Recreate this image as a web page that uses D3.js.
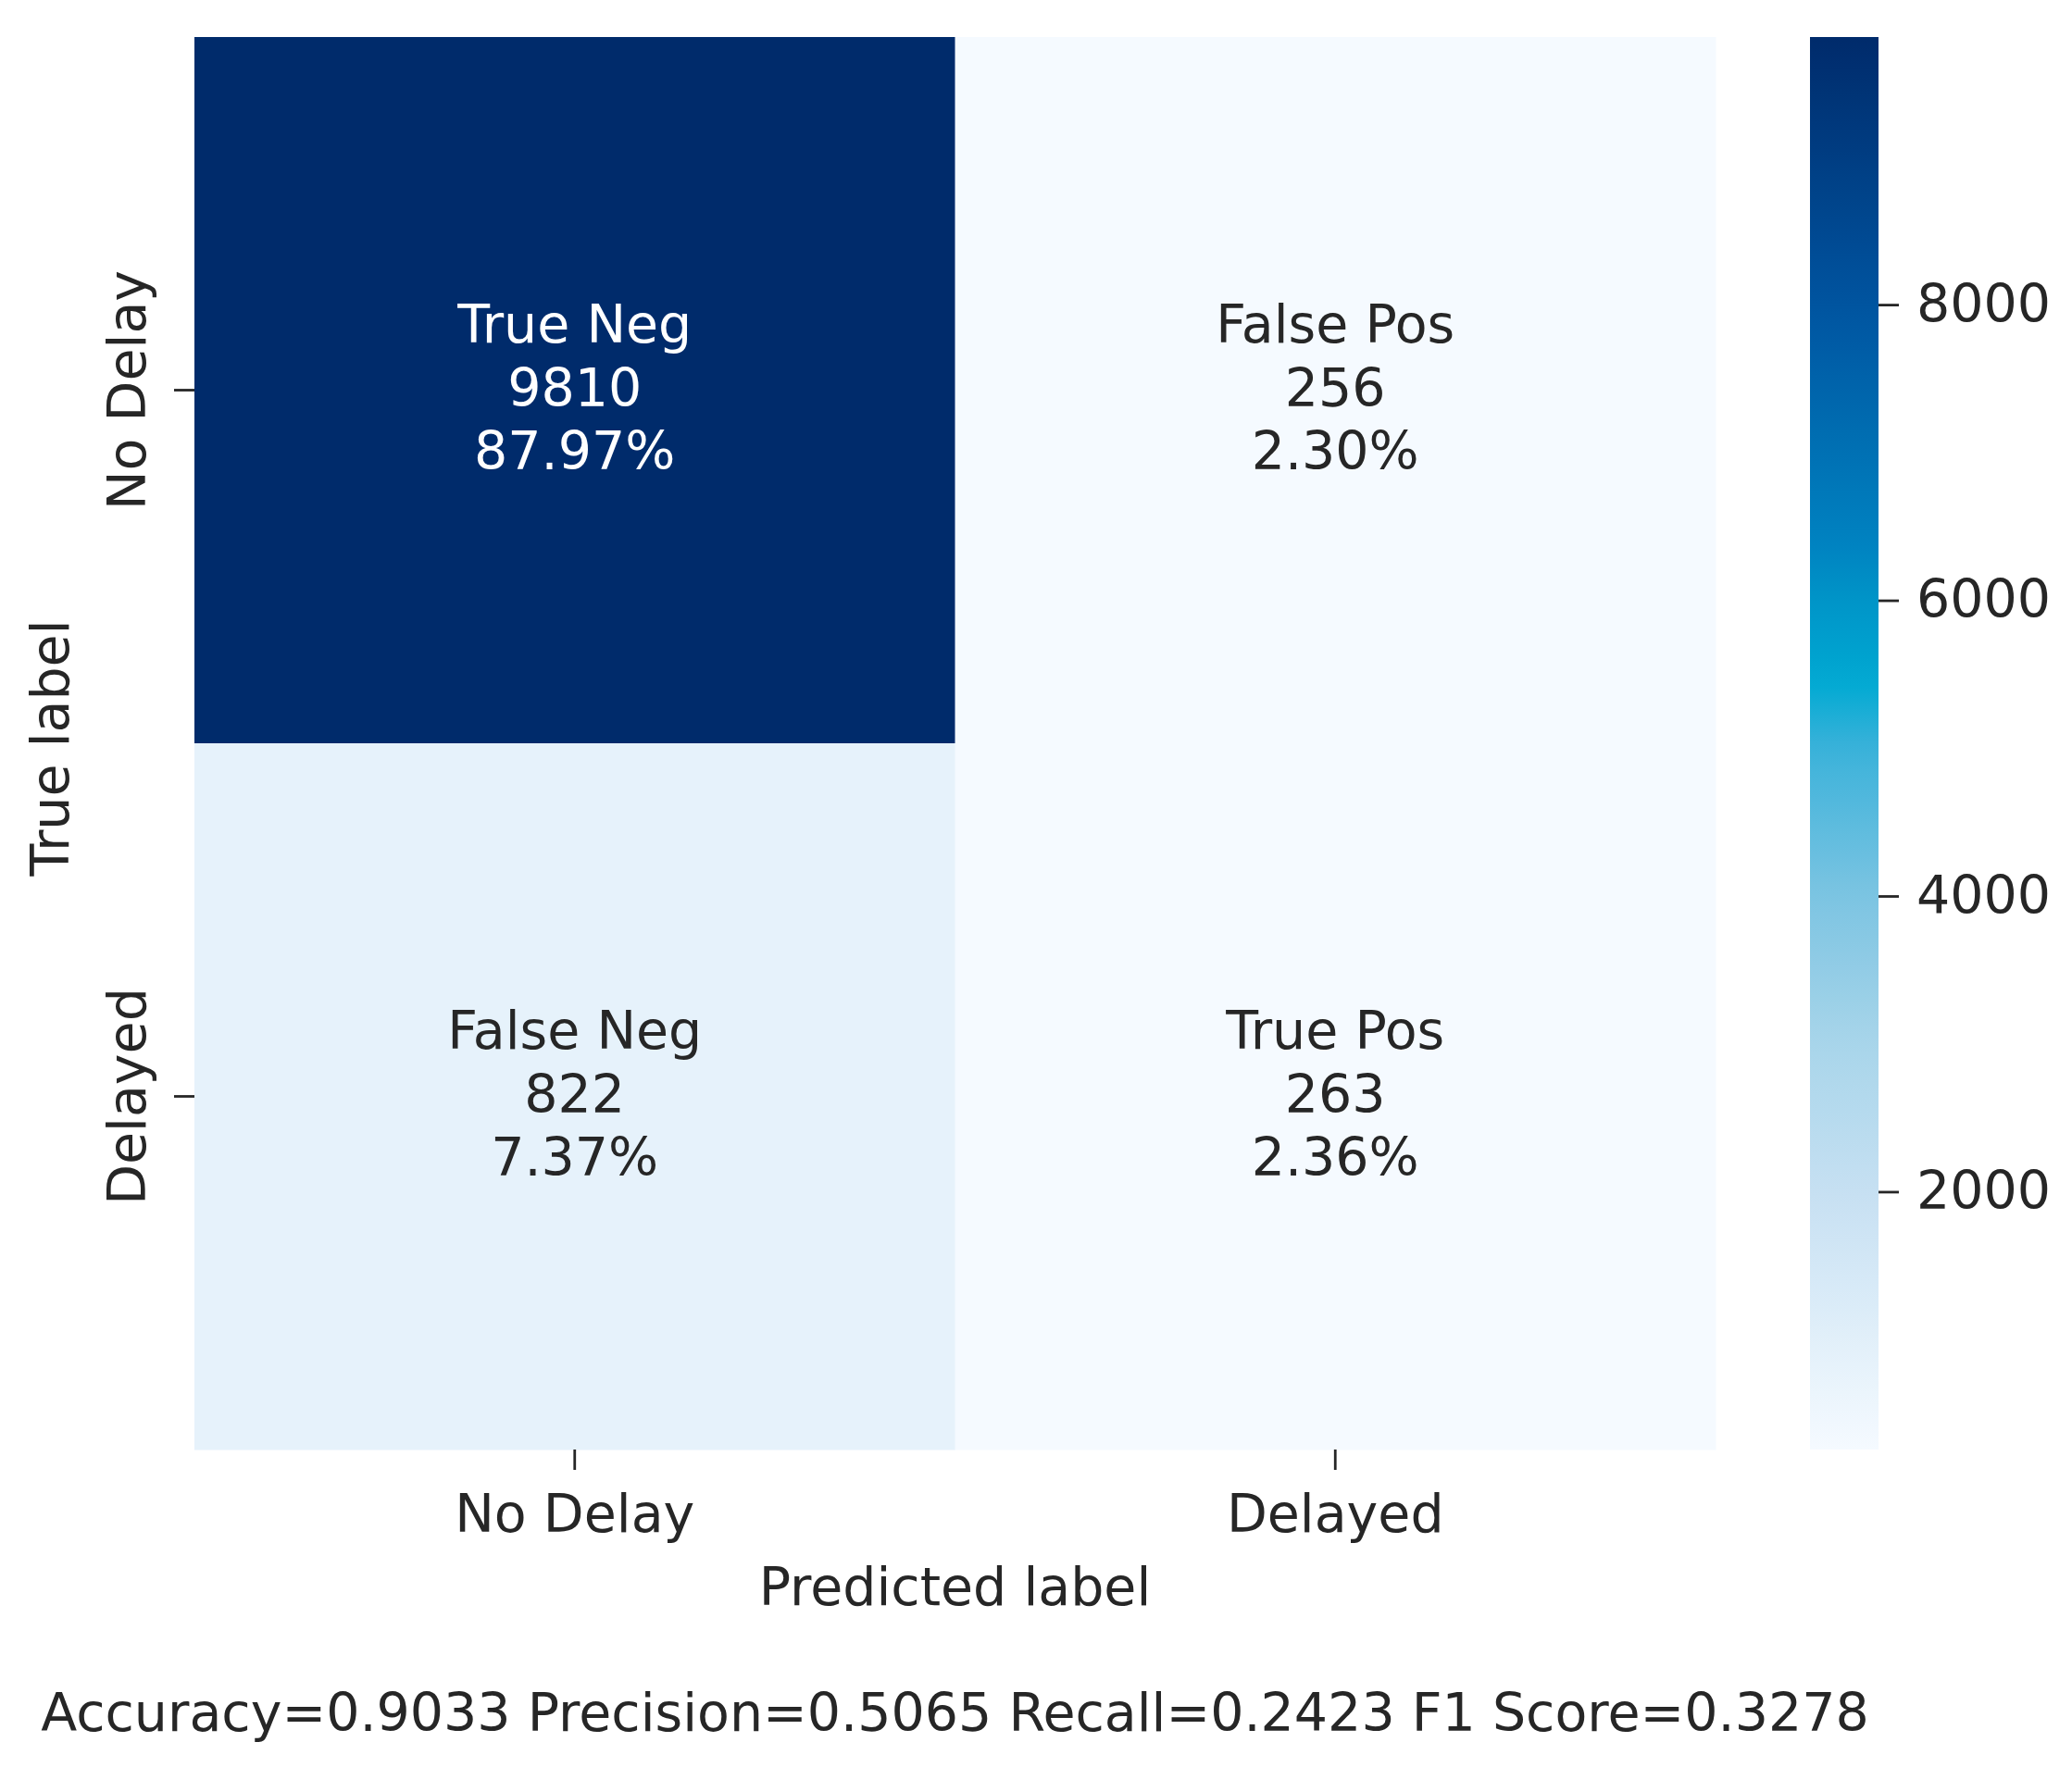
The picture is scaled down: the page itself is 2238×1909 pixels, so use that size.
<!DOCTYPE html>
<html>
<head>
<meta charset="utf-8">
<script src="https://cdn.jsdelivr.net/npm/d3@7"></script>
<style>
  body { margin: 0; background: #fff; }
  svg text { font-family: "DejaVu Sans", sans-serif; }
</style>
</head>
<body>
<svg id="chart" width="2238" height="1909"></svg>
<script>
// confusion matrix data
var classes = ["No Delay", "Delayed"];
var cellNames = [["True Neg", "False Pos"], ["False Neg", "True Pos"]];
var counts = [[9810, 256], [822, 263]];
var cbTicks = [2000, 4000, 6000, 8000];
var metricNames = ["Accuracy", "Precision", "Recall", "F1 Score"];
var metricValues = ["0.9033", "0.5065", "0.2423", "0.3278"];

// colour ramp (Blues, as it looks in the picture)
var rampStops = [0, 0.059, 0.1825, 0.287, 0.392, 0.497, 0.543, 0.601, 0.643, 0.81, 1];
var rampColors = ["#f5faff", "#e6f2fb", "#c6e0f2", "#a8d5ea", "#7cc4e2", "#3ab2da",
                  "#00a9d2", "#0095c8", "#0082c0", "#0054a0", "#002b6b"];

var svg = d3.select("#chart");
var fontSize = 57;

// plot box (window.top is reserved, so no plain "top")
var boxLeft = 210, boxRight = 1853, boxTop = 40, boxBottom = 1566;

var flat = [];
counts.forEach(function(row, i){
    row.forEach(function(v, j){
        flat.push({row: i, col: j, value: v, name: cellNames[i][j]});
    });
});
var total = d3.sum(flat, function(d){ return d.value; });
var vmin = d3.min(flat, function(d){ return d.value; });
var vmax = d3.max(flat, function(d){ return d.value; });

var norm = d3.scaleLinear().domain([vmin, vmax]).range([0, 1]);
var ramp = d3.scaleLinear().domain(rampStops).range(rampColors).interpolate(d3.interpolateRgb);
function color(v){ return ramp(norm(v)); }

var x = d3.scaleBand().domain(d3.range(classes.length)).range([boxLeft, boxRight]);
var y = d3.scaleBand().domain(d3.range(classes.length)).range([boxTop, boxBottom]);

// cells
svg.selectAll("rect.cell")
    .data(flat)
    .enter().append("rect")
    .attr("class", "cell")
    .attr("x", function(d){ return x(d.col); })
    .attr("y", function(d){ return y(d.row); })
    .attr("width", x.bandwidth() + 0.5)
    .attr("height", y.bandwidth() + 0.5)
    .attr("fill", function(d){ return color(d.value); });

// annotations
var pct = d3.format(".2%");
var lineH = 68.5;
flat.forEach(function(d){
    var cx = x(d.col) + x.bandwidth() / 2;
    var cy = y(d.row) + y.bandwidth() / 2;
    var lines = [d.name, String(d.value), pct(d.value / total)];
    var fill = norm(d.value) > 0.6 ? "#ffffff" : "#262626";
    lines.forEach(function(t, k){
        svg.append("text")
            .attr("x", cx)
            .attr("y", cy + 17 + (k - 1) * lineH)
            .attr("text-anchor", "middle")
            .attr("font-size", fontSize)
            .attr("fill", fill)
            .text(t);
    });
});

// x axis
var xAxis = svg.append("g")
    .attr("transform", "translate(0," + boxBottom + ")")
    .call(d3.axisBottom(x).tickSize(22).tickPadding(27).tickFormat(function(i){ return classes[i]; }));
xAxis.select(".domain").remove();
xAxis.selectAll("line").attr("stroke", "#262626").attr("stroke-width", 2.8);
xAxis.selectAll("text").attr("font-size", fontSize).attr("fill", "#262626")
    .attr("font-family", "DejaVu Sans");

// y axis
var yAxis = svg.append("g")
    .attr("transform", "translate(" + boxLeft + ",0)")
    .call(d3.axisLeft(y).tickSize(22).tickFormat(function(i){ return classes[i]; }));
yAxis.select(".domain").remove();
yAxis.selectAll("line").attr("stroke", "#262626").attr("stroke-width", 2.8);
yAxis.selectAll("text")
    .attr("x", null).attr("dy", null)
    .attr("text-anchor", "middle")
    .attr("transform", "translate(-53,0) rotate(-90)")
    .attr("font-size", fontSize).attr("fill", "#262626")
    .attr("font-family", "DejaVu Sans");

// axis titles
svg.append("text")
    .attr("x", (boxLeft + boxRight) / 2)
    .attr("y", 1734)
    .attr("text-anchor", "middle")
    .attr("font-size", fontSize)
    .attr("fill", "#262626")
    .text("Predicted label");

svg.append("text")
    .attr("transform", "translate(74," + 808 + ") rotate(-90)")
    .attr("text-anchor", "middle")
    .attr("font-size", fontSize)
    .attr("fill", "#262626")
    .text("True label");

// colorbar
var cbLeft = 1955, cbWidth = 74;
var defs = svg.append("defs");
var grad = defs.append("linearGradient")
    .attr("id", "cbGrad")
    .attr("x1", 0).attr("y1", 1).attr("x2", 0).attr("y2", 0);
d3.range(0, 1.0001, 0.02).forEach(function(t){
    grad.append("stop").attr("offset", t).attr("stop-color", ramp(t));
});
svg.append("rect")
    .attr("x", cbLeft).attr("y", boxTop)
    .attr("width", cbWidth).attr("height", boxBottom - boxTop)
    .attr("fill", "url(#cbGrad)");

var cbScale = d3.scaleLinear().domain([vmin, vmax]).range([boxBottom, boxTop]);
var cbAxis = svg.append("g")
    .attr("transform", "translate(" + (cbLeft + cbWidth) + ",0)")
    .call(d3.axisRight(cbScale).tickValues(cbTicks).tickSize(22).tickPadding(19).tickFormat(d3.format("d")));
cbAxis.select(".domain").remove();
cbAxis.selectAll("line").attr("stroke", "#262626").attr("stroke-width", 2.8);
cbAxis.selectAll("text").attr("font-size", fontSize).attr("fill", "#262626")
    .attr("font-family", "DejaVu Sans");

// metrics line
svg.append("text")
    .attr("x", (boxLeft + boxRight) / 2)
    .attr("y", 1870)
    .attr("text-anchor", "middle")
    .attr("font-size", fontSize)
    .attr("fill", "#262626")
    .text(metricNames.map(function(n, i){ return n + "=" + metricValues[i]; }).join(" "));
</script>
</body>
</html>
